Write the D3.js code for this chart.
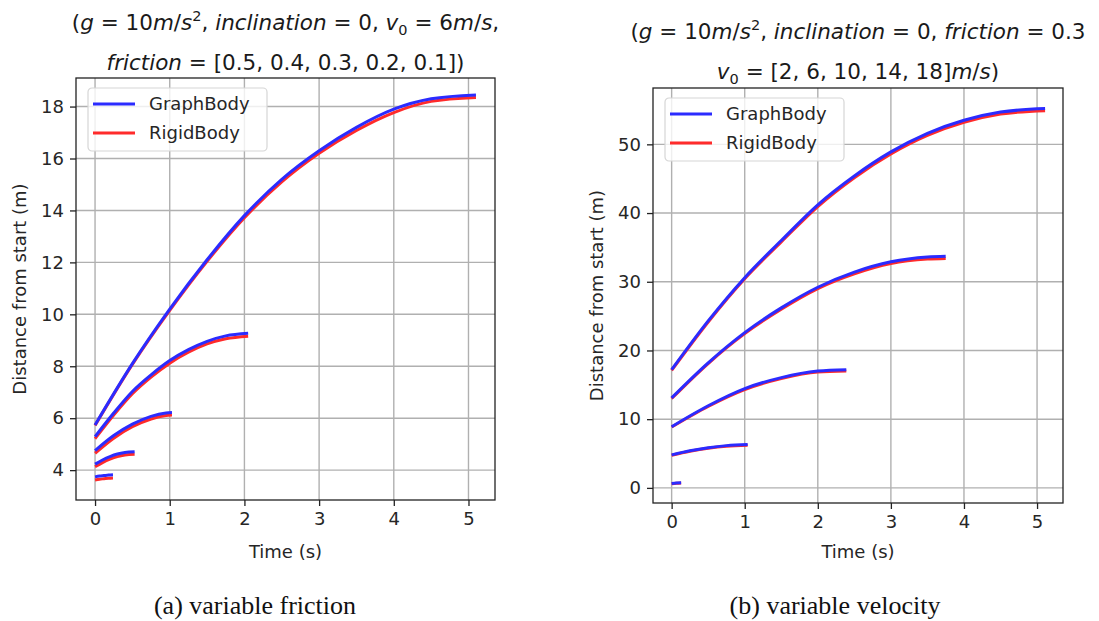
<!DOCTYPE html>
<html><head><meta charset="utf-8">
<script src="https://cdn.jsdelivr.net/npm/d3@7/dist/d3.min.js"></script>
<style>body{margin:0;background:#fff;} svg{display:block;}</style>
</head><body>
<svg id="chart" width="1099" height="621"></svg>
<script>
// ---------------- DATA ----------------
const xTicks = [0, 1, 2, 3, 4, 5];
const yTicksA = [4, 6, 8, 10, 12, 14, 16, 18];
const yTicksB = [0, 10, 20, 30, 40, 50];
const seriesNames = ["GraphBody", "RigidBody"];

// (a) variable friction: friction 0.5, 0.4, 0.3, 0.2, 0.1
const tA_f05 = [0, 0.06, 0.12, 0.18, 0.24];
const graphA_f05 = [3.74, 3.77, 3.79, 3.81, 3.82];
const rigidA_f05 = [3.62, 3.65, 3.67, 3.69, 3.70];

const tA_f04 = [0, 0.1, 0.2, 0.3, 0.4, 0.53];
const graphA_f04 = [4.23, 4.39, 4.52, 4.62, 4.68, 4.71];
const rigidA_f04 = [4.13, 4.29, 4.42, 4.52, 4.58, 4.61];

const tA_f03 = [0, 0.25, 0.5, 0.75, 0.95, 1.03];
const graphA_f03 = [4.75, 5.33, 5.77, 6.07, 6.20, 6.22];
const rigidA_f03 = [4.65, 5.23, 5.67, 5.97, 6.10, 6.12];

const tA_f02 = [0, 0.25, 0.5, 0.75, 1, 1.25, 1.5, 1.75, 2.05];
const graphA_f02 = [5.29, 6.20, 7.03, 7.67, 8.22, 8.64, 8.96, 9.17, 9.27];
const rigidA_f02 = [5.21, 6.12, 6.94, 7.58, 8.12, 8.54, 8.86, 9.06, 9.16];

const tA_f01 = [0, 0.5, 1, 1.5, 2, 2.5, 3, 3.5, 4, 4.5, 5.1];
const graphA_f01 = [5.74, 8.10, 10.20, 12.10, 13.80, 15.20, 16.30, 17.20, 17.90, 18.30, 18.45];
const rigidA_f01 = [5.72, 8.07, 10.15, 12.04, 13.72, 15.10, 16.20, 17.08, 17.77, 18.20, 18.35];

// (b) variable velocity: v0 = 2, 6, 10, 14, 18
const tB_v2 = [0, 0.065, 0.13];
const graphB_v2 = [0.65, 0.72, 0.75];
const rigidB_v2 = [0.60, 0.68, 0.72];

const tB_v6 = [0, 0.25, 0.5, 0.75, 1.04];
const graphB_v6 = [4.80, 5.40, 5.85, 6.15, 6.30];
const rigidB_v6 = [4.75, 5.33, 5.78, 6.07, 6.20];

const tB_v10 = [0, 0.5, 1, 1.5, 2, 2.39];
const graphB_v10 = [8.90, 11.95, 14.45, 16.05, 17.00, 17.20];
const rigidB_v10 = [8.85, 11.85, 14.30, 15.90, 16.85, 17.00];

const tB_v14 = [0, 0.5, 1, 1.5, 2, 2.5, 3, 3.5, 3.75];
const graphB_v14 = [13.1, 18.2, 22.6, 26.2, 29.2, 31.4, 32.9, 33.6, 33.7];
const rigidB_v14 = [13.0, 18.1, 22.45, 26.0, 29.0, 31.15, 32.65, 33.3, 33.4];

const tB_v18 = [0, 0.5, 1, 1.5, 2, 2.5, 3, 3.5, 4, 4.5, 5.11];
const graphB_v18 = [17.2, 24.3, 30.6, 36.0, 41.2, 45.4, 48.9, 51.6, 53.5, 54.7, 55.2];
const rigidB_v18 = [17.1, 24.15, 30.45, 35.8, 40.95, 45.15, 48.6, 51.3, 53.2, 54.4, 54.9];

// ---------------- BUILD ----------------
const zip = (t, v) => t.map((d, i) => [d, v[i]]);
const panels = [
  {
    frame: {x0: 76, x1: 495, y0: 78, y1: 500},
    xDomain: [-0.255, 5.355], yDomain: [2.85, 19.1], yTicks: yTicksA,
    curves: [
      [zip(tA_f05, graphA_f05), zip(tA_f05, rigidA_f05)],
      [zip(tA_f04, graphA_f04), zip(tA_f04, rigidA_f04)],
      [zip(tA_f03, graphA_f03), zip(tA_f03, rigidA_f03)],
      [zip(tA_f02, graphA_f02), zip(tA_f02, rigidA_f02)],
      [zip(tA_f01, graphA_f01), zip(tA_f01, rigidA_f01)]
    ],
    title: [
      [["(", "n"], ["g", "i"], [" = 10", "n"], ["m", "i"], ["/", "n"], ["s", "i"], ["2", "sup"], [", ", "n"], ["inclination", "i"], [" = 0, ", "n"], ["v", "i"], ["0", "sub"], [" = 6", "n"], ["m", "i"], ["/", "n"], ["s", "i"], [",", "n"]],
      [["friction", "i"], [" = [0.5, 0.4, 0.3, 0.2, 0.1])", "n"]]
    ],
    titleY: [30, 70],
    caption: "(a) variable friction", captionX: 255
  },
  {
    frame: {x0: 653, x1: 1063, y0: 88, y1: 503},
    xDomain: [-0.255, 5.355], yDomain: [-2.2, 58.2], yTicks: yTicksB,
    curves: [
      [zip(tB_v2, graphB_v2), zip(tB_v2, rigidB_v2)],
      [zip(tB_v6, graphB_v6), zip(tB_v6, rigidB_v6)],
      [zip(tB_v10, graphB_v10), zip(tB_v10, rigidB_v10)],
      [zip(tB_v14, graphB_v14), zip(tB_v14, rigidB_v14)],
      [zip(tB_v18, graphB_v18), zip(tB_v18, rigidB_v18)]
    ],
    title: [
      [["(", "n"], ["g", "i"], [" = 10", "n"], ["m", "i"], ["/", "n"], ["s", "i"], ["2", "sup"], [", ", "n"], ["inclination", "i"], [" = 0, ", "n"], ["friction", "i"], [" = 0.3", "n"]],
      [["v", "i"], ["0", "sub"], [" = [2, 6, 10, 14, 18]", "n"], ["m", "i"], ["/", "n"], ["s", "i"], [")", "n"]]
    ],
    titleY: [39, 79],
    caption: "(b) variable velocity", captionX: 835
  }
];

const colors = {GraphBody: "#2b2bff", RigidBody: "#ff2b2b"};
const svg = d3.select("#chart");
svg.append("rect").attr("width", 1099).attr("height", 621).attr("fill", "#fff");

const FONT = "'DejaVu Sans', sans-serif";
const tickFont = 18;

panels.forEach(p => {
  const f = p.frame;
  const x = d3.scaleLinear().domain(p.xDomain).range([f.x0, f.x1]);
  const y = d3.scaleLinear().domain(p.yDomain).range([f.y1, f.y0]);
  const g = svg.append("g");

  // grid
  g.append("g").selectAll("line").data(xTicks).join("line")
    .attr("x1", d => x(d)).attr("x2", d => x(d)).attr("y1", f.y0).attr("y2", f.y1)
    .attr("stroke", "#b0b0b0").attr("stroke-width", 1.4);
  g.append("g").selectAll("line").data(p.yTicks).join("line")
    .attr("y1", d => y(d)).attr("y2", d => y(d)).attr("x1", f.x0).attr("x2", f.x1)
    .attr("stroke", "#b0b0b0").attr("stroke-width", 1.4);

  // axes
  const xAxis = d3.axisBottom(x).tickValues(xTicks).tickSize(6).tickPadding(6).tickFormat(d3.format("d"));
  const yAxis = d3.axisLeft(y).tickValues(p.yTicks).tickSize(6).tickPadding(6).tickFormat(d3.format("d"));
  const gx = g.append("g").attr("transform", `translate(0,${f.y1})`).call(xAxis);
  const gy = g.append("g").attr("transform", `translate(${f.x0},0)`).call(yAxis);
  [gx, gy].forEach(a => {
    a.select(".domain").remove();
    a.selectAll("line").attr("stroke", "#222").attr("stroke-width", 1.3);
    a.selectAll("text").attr("font-family", FONT).attr("font-size", tickFont).attr("fill", "#262626");
  });

  // curves: red (RigidBody) beneath, blue (GraphBody) on top
  const line = d3.line().curve(d3.curveMonotoneX).x(d => x(d[0])).y(d => y(d[1]));
  const cg = g.append("g");
  p.curves.forEach(c => {
    cg.append("path").datum(c[1]).attr("d", line).attr("fill", "none")
      .attr("stroke", colors.RigidBody).attr("stroke-width", 3);
  });
  p.curves.forEach(c => {
    cg.append("path").datum(c[0]).attr("d", line).attr("fill", "none")
      .attr("stroke", colors.GraphBody).attr("stroke-width", 3);
  });

  // frame
  g.append("rect").attr("x", f.x0).attr("y", f.y0).attr("width", f.x1 - f.x0).attr("height", f.y1 - f.y0)
    .attr("fill", "none").attr("stroke", "#222").attr("stroke-width", 1.3);

  // legend
  const lg = g.append("g").attr("transform", `translate(${f.x0 + 12},${f.y0 + 10})`);
  lg.append("rect").attr("width", 179).attr("height", 63).attr("rx", 4)
    .attr("fill", "#fff").attr("fill-opacity", 0.8).attr("stroke", "#d6d6d6").attr("stroke-width", 1.2);
  seriesNames.forEach((s, i) => {
    const yy = 16 + i * 29;
    lg.append("line").attr("x1", 5).attr("x2", 47).attr("y1", yy).attr("y2", yy)
      .attr("stroke", colors[s]).attr("stroke-width", 3);
    lg.append("text").attr("x", 61).attr("y", yy).attr("dy", "0.35em")
      .attr("font-family", FONT).attr("font-size", tickFont).attr("fill", "#262626").text(s);
  });

  // axis labels
  const cx = (f.x0 + f.x1) / 2, cy = (f.y0 + f.y1) / 2;
  g.append("text").attr("x", cx).attr("y", 552).attr("dy", "0.35em").attr("text-anchor", "middle")
    .attr("font-family", FONT).attr("font-size", tickFont).attr("fill", "#262626").text("Time (s)");
  g.append("text").attr("transform", `translate(${f.x0 - 56},${cy}) rotate(-90)`).attr("text-anchor", "middle")
    .attr("dy", "0.35em").attr("font-family", FONT).attr("font-size", tickFont).attr("fill", "#262626")
    .text("Distance from start (m)");

  // title (mathtext-like)
  p.title.forEach((segs, li) => {
    const t = g.append("text").attr("x", cx).attr("y", p.titleY[li]).attr("text-anchor", "middle")
      .attr("font-family", FONT).attr("font-size", 21.5).attr("fill", "#1a1a1a");
    let shift = 0;
    segs.forEach(([txt, st]) => {
      const ts = t.append("tspan").text(txt).style("white-space", "pre");
      if (st === "i") ts.attr("font-style", "oblique");
      if (st === "sup") { ts.attr("font-size", 14.5).attr("dy", -9 - shift); shift = -9; }
      else if (st === "sub") { ts.attr("font-size", 14.5).attr("dy", 5 - shift); shift = 5; }
      else if (shift !== 0) { ts.attr("dy", -shift); shift = 0; }
    });
  });

  // caption
  g.append("text").attr("x", p.captionX).attr("y", 605).attr("dy", "0.35em").attr("text-anchor", "middle")
    .attr("font-family", "'Liberation Serif', 'DejaVu Serif', serif").attr("font-size", 26).attr("fill", "#111")
    .text(p.caption);
});
</script>
</body></html>
